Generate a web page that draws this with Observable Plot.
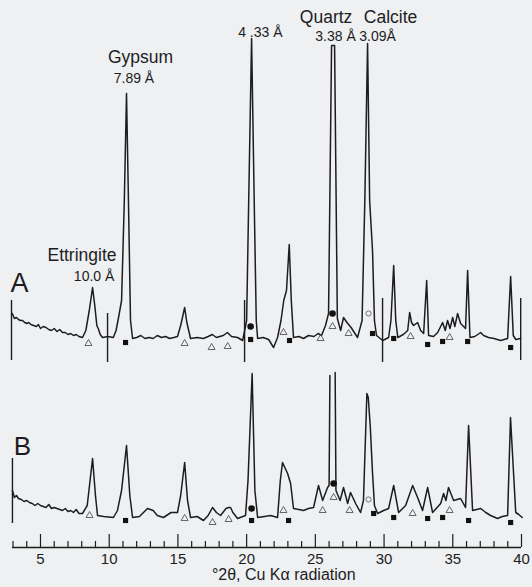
<!DOCTYPE html>
<html><head><meta charset="utf-8">
<script src="https://cdn.jsdelivr.net/npm/d3@7"></script>
<script src="https://cdn.jsdelivr.net/npm/@observablehq/plot@0.6"></script>
<style>
html,body{margin:0;padding:0;background:#eef0f1;}
#chart{width:532px;height:587px;}
svg{display:block;}
</style></head><body><div id="chart"></div>
<script>
// ---------- Data (2θ in degrees, intensity in arbitrary units above each trace's floor) ----------
const thetaA = [2.95,3.1,3.25,3.4,3.55,3.7,3.85,4.0,4.15,4.3,4.5,4.7,4.85,5.0,5.2,5.4,5.6,5.8,6.0,6.2,6.4,6.6,6.8,7.0,7.2,7.4,7.6,7.8,8.06,8.3,8.55,8.79,8.95,9.1,9.2,9.35,9.51,9.9,10.3,10.5,10.68,10.9,11.1,11.26,11.4,11.55,11.7,12.0,12.3,12.6,12.9,13.2,13.5,13.8,14.1,14.4,14.7,14.97,15.2,15.49,15.65,15.92,16.4,16.86,17.2,17.5,17.8,18.3,18.6,18.9,19.34,19.71,20.0,20.15,20.36,20.55,20.7,20.8,21.2,21.6,21.96,22.25,22.5,22.7,22.9,23.1,23.25,23.41,23.8,24.14,24.5,24.9,25.2,25.45,25.74,25.96,26.18,26.4,26.6,26.84,27.05,27.3,27.6,28.07,28.4,28.6,28.8,28.95,29.16,29.3,29.45,29.9,30.33,30.5,30.7,30.85,31.0,31.4,31.72,31.86,32.0,32.15,32.44,32.66,32.88,33.1,33.24,33.6,33.9,34.26,34.45,34.62,34.8,34.99,35.15,35.35,35.57,35.93,36.08,36.25,36.6,37.03,37.24,37.6,38.0,38.48,38.99,39.21,39.4,39.58,39.94];
const intensityA = [37,32,33,31,30,30,28,27,28,26,25,24,26,22,24,23,21,20,22,19,21,18,18,16,17,15,16,14,13,20,40,63,45,25,22,16,13,14,13,20,33,50,150,257,150,30,12,13,15,12,13,12,15,13,14,12,13,14,25,43,28,12,13,12,14,16,13,15,18,14,13,10,30,150,312,150,30,12,13,11,3,13,30,50,60,106,50,13,14,12,15,14,17,15,25,37,305,305,32,20,33,28,23,13,30,150,307,150,100,30,15,10,13,30,85,30,13,16,20,38,28,25,28,20,17,70,15,14,18,28,20,30,22,33,24,37,27,22,80,13,14,18,15,13,12,10,12,74,15,11,12];

const thetaB = [2.96,3.1,3.25,3.4,3.6,3.8,4.0,4.2,4.4,4.6,4.8,5.0,5.2,5.4,5.6,5.8,6.0,6.2,6.4,6.6,6.8,7.0,7.2,7.4,7.6,7.8,8.06,8.4,8.79,9.0,9.15,9.6,10.31,10.6,10.9,11.26,11.5,11.7,12.2,12.79,13.2,13.5,13.95,14.5,14.97,15.2,15.49,15.7,15.92,16.4,16.86,17.2,17.52,17.8,18.1,18.5,18.69,18.83,19.0,19.34,19.92,20.1,20.4,20.6,20.8,21.3,21.74,22.25,22.45,22.61,22.98,23.2,23.41,23.8,24.14,24.5,24.87,25.23,25.53,25.89,26.0,26.06,26.1,26.44,26.5,26.8,27.05,27.35,27.56,27.93,28.29,28.5,28.75,28.85,29.0,29.15,29.3,29.53,29.97,30.33,30.7,31.06,31.57,32.08,32.44,32.8,33.17,33.53,34.12,34.33,34.5,34.69,35.06,35.57,35.93,36.15,36.44,37.03,37.4,37.75,38.26,38.6,38.99,39.2,39.58,39.8,40.05];
const intensityB = [35,28,30,27,26,24,25,23,22,20,22,20,19,18,21,17,18,17,16,15,17,14,15,13,16,12,12,20,67,30,10,9,8,15,35,80,30,8,9,17,15,10,8,13,13,30,63,25,8,9,5,10,18,13,10,17,18,18,13,7,10,45,152,35,8,9,10,8,45,63,52,42,17,16,15,17,18,40,25,38,40,150,NaN,153,35,25,38,22,33,22,13,25,132,128,98,55,20,12,15,17,40,13,20,40,28,15,38,13,22,32,25,38,25,27,18,100,15,17,13,10,7,9,10,108,13,11,8];

// phase markers (2θ, intensity)
const triThetaA = [8.49,15.49,17.45,18.62,22.68,25.38,26.25,27.42,31.93,34.77];
const triIntA   = [7,7,3,4,18,12,24,17,14,13];
const sqThetaA  = [11.19,20.29,23.12,29.16,30.70,33.17,34.26,36.08,39.21];
const sqIntA    = [8,11,10,17,12,6,9,9,3];
const dotThetaA = [20.29,26.25];
const dotIntA   = [24,37];
const ringThetaA = [28.87];
const ringIntA   = [37];

const triThetaB = [8.57,15.49,17.52,18.69,22.68,25.53,26.33,27.49,32.08,34.77];
const triIntB   = [10,7,3,6,15,15,28,15,12,15];
const sqThetaB  = [11.19,20.36,23.05,29.24,30.70,33.17,34.26,36.15,39.21];
const sqIntB    = [5,5,5,12,8,7,8,5,3];
const dotThetaB = [20.36,26.33];
const dotIntB   = [17,42];
const ringThetaB = [28.87];
const ringIntB   = [26];

// fiducial marks
const fidThetaA = [2.89,9.88,19.85,29.89,39.94];
const fidTopA   = [50,37,50,52,52];
const fidBotA   = [-10,-12,-12,-12,-10];
const fidThetaB = [2.96];
const fidTopB   = [67];
const fidBotB   = [2];

// axis ticks
const minorTicks = d3.range(3, 41);
const majorTicks = [5,10,15,20,25,30,35,40];
const tickLabels = ["5","10","15","20","25","30","35","40"];

// labels
const mineralNames  = ["Ettringite","Gypsum","Quartz","Calcite"];
const mineralTheta  = [8.02,12.28,25.78,30.47];
const mineralHeight = [292,490,530,530];
const dNames  = ["10.0 Å","7.89 Å","4 .33 Å","3.38 Å","3.09Å"];
const dTheta  = [8.9,11.8,21.0,26.47,29.53];
const dHeight = [271,469,515,511,511];

// ---------- Build ----------
const OFF_A = 197, OFF_B = 22;
const zip = (xs, ys, off) => xs.map((x, i) => ({x, y: ys[i] + off}));
const lineA = zip(thetaA, intensityA, OFF_A);
const lineB = zip(thetaB, intensityB, OFF_B);
const ink = "#1d1d1f";
const font = "Liberation Sans, Arial, Helvetica, sans-serif";

const markerMarks = (tri, sq, dot, ring) => [
  Plot.dot(tri, {x: "x", y: "y", symbol: "triangle", r: 2.6, stroke: "#555", strokeWidth: 0.9, fill: "none"}),
  Plot.dot(sq, {x: "x", y: "y", symbol: "square", r: 2.9, fill: "#111", stroke: "none"}),
  Plot.dot(dot, {x: "x", y: "y", r: 3.3, fill: "#111", stroke: "none"}),
  Plot.dot(ring, {x: "x", y: "y", r: 2.6, stroke: "#666", strokeWidth: 0.9, fill: "none"})
];

const fid = (xs, top, bot, off) => xs.map((x, i) => ({x, y1: top[i] + off, y2: bot[i] + off}));

const chart = Plot.plot({
  width: 532, height: 587,
  marginTop: 0, marginBottom: 0, marginLeft: 12.5, marginRight: 11,
  x: {domain: [3, 40], axis: null},
  y: {domain: [-40, 547], axis: null},
  style: {background: "transparent", fontFamily: font, color: ink},
  marks: [
    Plot.line(lineA, {x: "x", y: "y", stroke: ink, strokeWidth: 1.5, strokeLinejoin: "round"}),
    Plot.line(lineB, {x: "x", y: "y", stroke: ink, strokeWidth: 1.5, strokeLinejoin: "round"}),
    Plot.ruleX(fid(fidThetaA, fidTopA, fidBotA, OFF_A), {x: "x", y1: "y1", y2: "y2", stroke: ink, strokeWidth: 1.4}),
    Plot.ruleX(fid(fidThetaB, fidTopB, fidBotB, OFF_B), {x: "x", y1: "y1", y2: "y2", stroke: ink, strokeWidth: 1.4}),
    ...markerMarks(zip(triThetaA, triIntA, OFF_A), zip(sqThetaA, sqIntA, OFF_A), zip(dotThetaA, dotIntA, OFF_A), zip(ringThetaA, ringIntA, OFF_A)),
    ...markerMarks(zip(triThetaB, triIntB, OFF_B), zip(sqThetaB, sqIntB, OFF_B), zip(dotThetaB, dotIntB, OFF_B), zip(ringThetaB, ringIntB, OFF_B)),
    // axis
    Plot.ruleY([0], {x1: 2.96, x2: 40, stroke: ink, strokeWidth: 1.5}),
    Plot.ruleX(minorTicks, {x: d => d, y1: 0, y2: d => d % 5 === 0 ? 13 : 6, stroke: ink, strokeWidth: 1.2}),
    Plot.text(majorTicks, {x: d => d, y: -12, text: (d, i) => tickLabels[i], fontSize: 15, fill: ink}),
    Plot.text(["°2θ, Cu Kα radiation"], {x: 22.7, y: -27, text: d => d, fontSize: 16, fill: ink}),
    // trace labels
    Plot.text(["A"], {x: 3.47, y: 264, text: d => d, fontSize: 27, fill: ink}),
    Plot.text(["B"], {x: 3.69, y: 101, text: d => d, fontSize: 26, fill: ink}),
    // annotations
    Plot.text(mineralNames, {x: (d, i) => mineralTheta[i], y: (d, i) => mineralHeight[i], text: d => d, fontSize: 17.5, fill: ink}),
    Plot.text(dNames, {x: (d, i) => dTheta[i], y: (d, i) => dHeight[i], text: d => d, fontSize: 14, fill: ink})
  ]
});
document.getElementById("chart").appendChild(chart);
</script></body></html>
